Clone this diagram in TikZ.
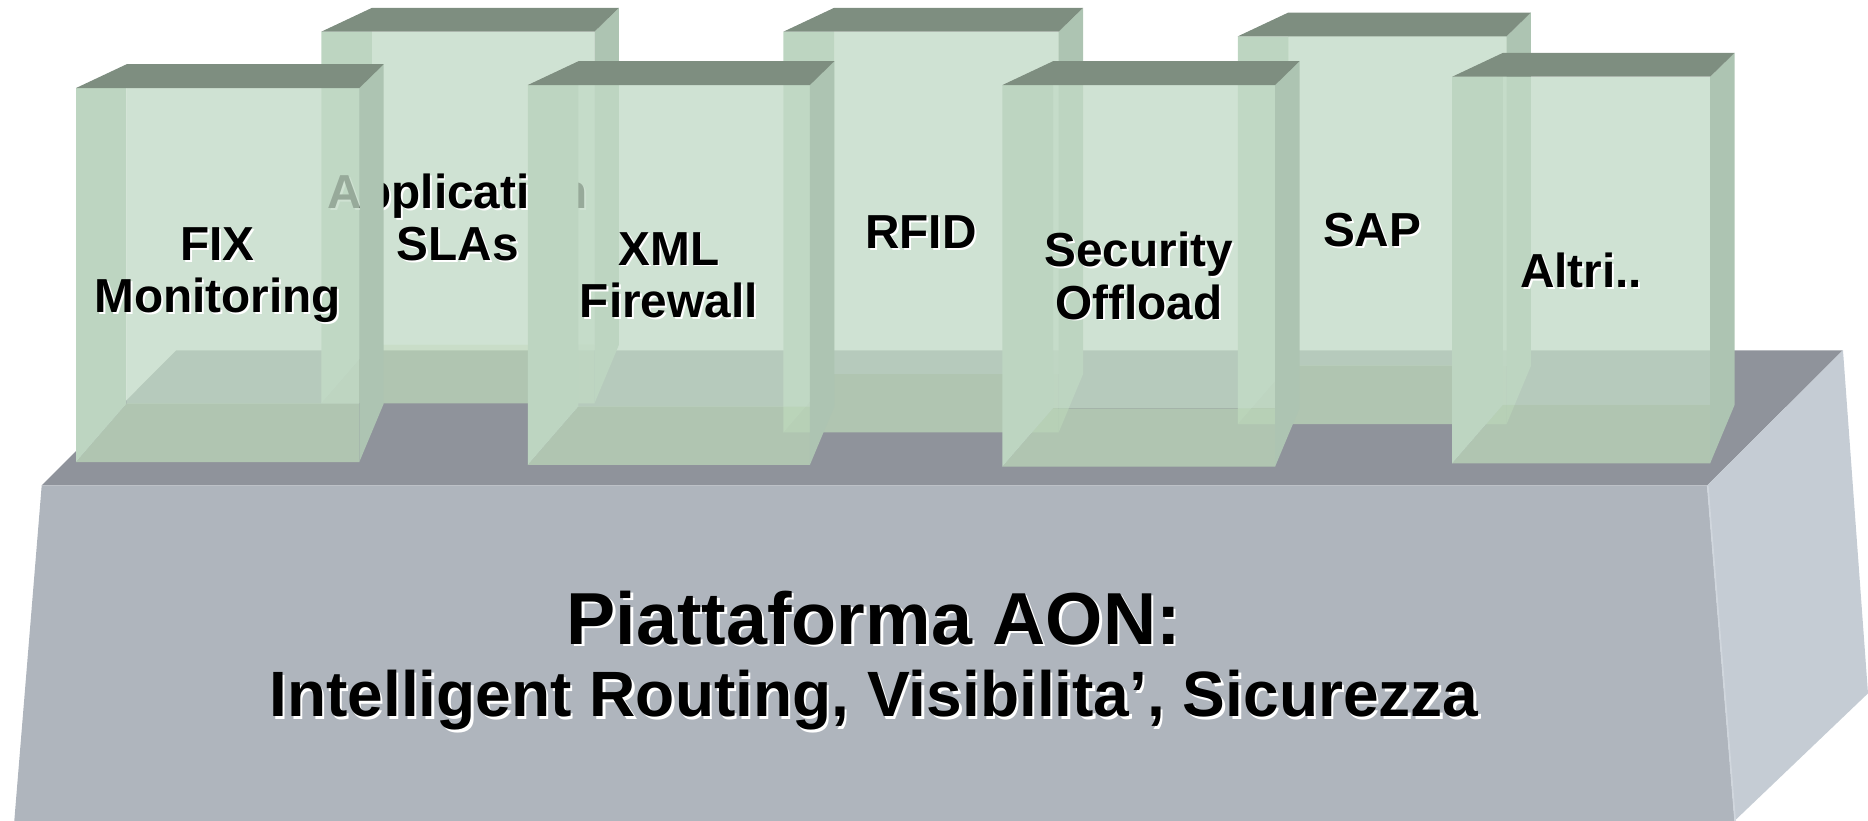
\documentclass[tikz,border=0pt]{standalone}
\usepackage{fontspec}
\setmainfont{Liberation Sans}
\usepackage{tikz}
\usetikzlibrary{
  calc,
  positioning
}
\usepackage{xcolor}
\definecolor{platTop}{HTML}{8F939B}
\definecolor{platFront}{HTML}{AFB5BD}
\definecolor{platSide}{HTML}{C5CCD4}
\definecolor{platEdge}{HTML}{D0D6DD}
\definecolor{glassFront}{HTML}{C2DAC6}
\definecolor{glassFloor}{HTML}{BAD4B8}
\definecolor{glassWall}{HTML}{BDD5C1}
\definecolor{glassSide}{HTML}{ADC4B2}
\definecolor{glassTop}{HTML}{7E8E80}

\begin{document}
\begin{tikzpicture}[x=0.1mm,y=-0.1mm,
    boxlabel/.style={font=\bfseries\fontsize{11.4}{12.5}\selectfont,align=center,inner sep=0pt},
    title/.style={font=\bfseries\fontsize{17.6}{20}\selectfont,inner sep=0pt},
    subtitle/.style={font=\bfseries\fontsize{15.3}{18}\selectfont,inner sep=0pt}]
            \useasboundingbox (0,0) rectangle (1568,689);
            \fill[platTop] (35,407.5) -- (148,294) -- (1547,294) -- (1433,407.5) -- cycle;
            \fill[platFront] (35,407.5) -- (1433,407.5) -- (1456,689) -- (12,689) -- cycle;
            \fill[platSide] (1433,407.5) -- (1547,294) -- (1568,582) -- (1456,689) -- cycle;
            \draw[platEdge,line width=0.4pt] (1433.5,408) -- (1456.5,689);
            \foreach \nm/\xa/\ya/\xb/\yb/\txt in {
                app/269.7/26.6/499/338.5/{Application\\SLAs},
                rfid/657.6/26.6/888.6/363/{RFID},
                sap/1039/30.5/1264.6/356/{SAP},
                fix/63.8/73.9/301.6/387.8/{FIX\\Monitoring},
                xml/443/71.4/679.8/390.3/{XML\\Firewall},
                sec/841.4/71.4/1070.3/391.7/{Security\\Offload},
                altri/1219/64.4/1435.5/388.9/{Altri..}}{
                \fill[glassFront,fill opacity=.78] (\xa+42.5,\ya) rectangle (\xb,\yb-49);
                \fill[glassFloor,fill opacity=.78] (\xa,\yb) -- (\xa+42.5,\yb-49) -- (\xb,\yb-49) -- (\xb,\yb) -- cycle;
                \fill[glassWall] (\xa,\ya) -- (\xa+42.5,\ya) -- (\xa+42.5,\yb-49) -- (\xa,\yb) -- cycle;
                \fill[glassSide] (\xb,\ya) -- (\xb+20.5,\ya-20) -- (\xb+20.5,\yb-49) -- (\xb,\yb) -- cycle;
                \fill[glassTop] (\xa,\ya) -- (\xa+42.5,\ya-20) -- (\xb+20.5,\ya-20) -- (\xb,\ya) -- cycle;
                \node[boxlabel,text=white] (\nm-s) at ($(\xa,\ya)!.5!(\xb,\yb)+(1.6,1.6)$) {\txt};
                \node[boxlabel] (\nm) at ($(\xa,\ya)!.5!(\xb,\yb)$) {\txt};
            }
            \node[title,text=white,anchor=base] (aon-s) at (735.5,542.6) {Piattaforma AON:};
            \node[title,anchor=base] (aon) at (733.5,540.6) {Piattaforma AON:};
            \node[subtitle,text=white,anchor=base] (feat-s) at (735.5,603.6) {Intelligent Routing, Visibilita’, Sicurezza};
            \node[subtitle,anchor=base] (feat) at (733.5,601.6) {Intelligent Routing, Visibilita’, Sicurezza};
        \end{tikzpicture}
\end{document}
